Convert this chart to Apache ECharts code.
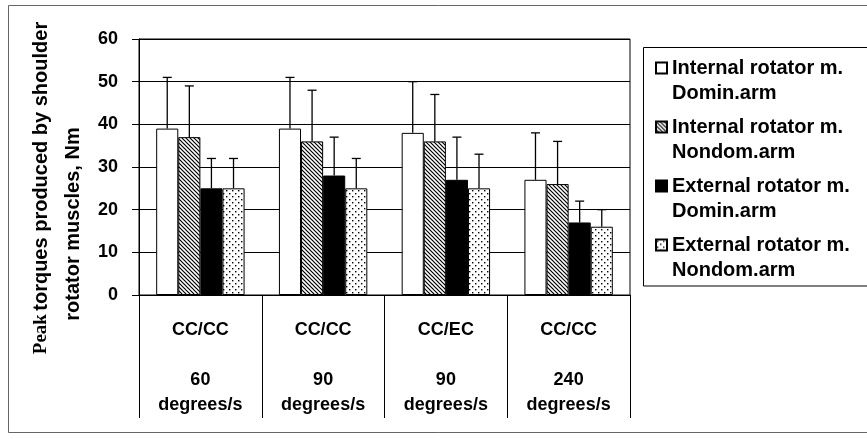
<!DOCTYPE html>
<html>
<head>
<meta charset="utf-8">
<script src="https://cdn.jsdelivr.net/npm/echarts@6/dist/echarts.min.js"></script>
<style>html,body{margin:0;padding:0;background:#fff;}#c{width:867px;height:439px;}</style>
</head>
<body>
<div id="c"></div>
<script>
// ---- data ----
var categories = ['CC/CC\n\n60\ndegrees/s', 'CC/CC\n\n90\ndegrees/s', 'CC/EC\n\n90\ndegrees/s', 'CC/CC\n\n240\ndegrees/s'];
var seriesNames = ['Internal rotator m.\nDomin.arm', 'Internal rotator m.\nNondom.arm', 'External rotator m.\nDomin.arm', 'External rotator m.\nNondom.arm'];
var internalDomin = [39, 39, 38, 27];
var internalDominSD = [12, 12, 12, 11];
var internalNondom = [37, 36, 36, 26];
var internalNondomSD = [12, 12, 11, 10];
var externalDomin = [25, 28, 27, 17];
var externalDominSD = [7, 9, 10, 5];
var externalNondom = [25, 25, 25, 16];
var externalNondomSD = [7, 7, 8, 4];
var yTicks = [0, 10, 20, 30, 40, 50, 60];

var means = [internalDomin, internalNondom, externalDomin, externalNondom];
var sds = [internalDominSD, internalNondomSD, externalDominSD, externalNondomSD];

// ---- patterns ----
function hatchPattern() {
  var c = document.createElement('canvas'); c.width = 4; c.height = 4;
  var g = c.getContext('2d');
  g.fillStyle = '#fff'; g.fillRect(0, 0, 4, 4);
  g.strokeStyle = '#000'; g.lineWidth = 1.2;
  [-4, 0, 4].forEach(function (o) { g.beginPath(); g.moveTo(o - 1, -1); g.lineTo(o + 5, 5); g.stroke(); });
  return { image: c, repeat: 'repeat' };
}
function dotPattern() {
  var c = document.createElement('canvas'); c.width = 6; c.height = 6;
  var g = c.getContext('2d');
  g.fillStyle = '#fff'; g.fillRect(0, 0, 6, 6);
  g.fillStyle = '#000';
  g.fillRect(1, 1, 1.4, 1.4); g.fillRect(4, 4, 1.4, 1.4);
  return { image: c, repeat: 'repeat' };
}
var fills = ['#ffffff', hatchPattern(), '#000000', dotPattern()];

var FONT = "'Liberation Sans', Arial, sans-serif";
var GAP = 0.28;

var series = [];
means.forEach(function (arr, k) {
  series.push({
    name: seriesNames[k],
    type: 'bar',
    data: arr,
    barGap: 0,
    barCategoryGap: (GAP * 100) + '%',
    itemStyle: { color: fills[k], borderColor: '#000', borderWidth: 1 },
    silent: true,
    z: 2
  });
});
means.forEach(function (arr, k) {
  var d = arr.map(function (m, i) { return [i, m + sds[k][i], m]; });
  series.push({
    name: 'err' + k,
    type: 'custom',
    data: d,
    z: 3,
    silent: true,
    renderItem: function (params, api) {
      var cat = api.value(0), top = api.value(1), base = api.value(2);
      var band = api.size([1, 0])[0];
      var bw = band * (1 - GAP) / 4;
      var cx = api.coord([cat, 0])[0] + (k - 1.5) * bw;
      var y1 = api.coord([cat, base])[1];
      var y2 = api.coord([cat, top])[1];
      var st = { stroke: '#000', lineWidth: 1.3 };
      return {
        type: 'group',
        children: [
          { type: 'line', shape: { x1: cx, y1: y1, x2: cx, y2: y2 }, style: st },
          { type: 'line', shape: { x1: cx - 4.5, y1: y2, x2: cx + 4.5, y2: y2 }, style: st }
        ]
      };
    }
  });
});

var chart = echarts.init(document.getElementById('c'), null, { renderer: 'canvas' });
chart.setOption({
  animation: false,
  backgroundColor: '#fff',
  grid: { left: 139, top: 39, right: 237, bottom: 144, show: true, borderColor: '#000', borderWidth: 1 },
  legend: {
    data: seriesNames,
    orient: 'vertical',
    left: 643,
    top: 47,
    selectedMode: false,
    icon: 'rect',
    itemWidth: 11,
    itemHeight: 11,
    itemGap: -16,
    padding: [-16.5, 40, 3.5, 12],
    formatter: function (n) { return ' \n' + n; },
    textStyle: { fontFamily: FONT, fontWeight: 'bold', fontSize: 20, color: '#000', lineHeight: 25 }
  },
  xAxis: {
    type: 'category',
    data: categories,
    axisLine: { lineStyle: { color: '#000', width: 1 } },
    axisTick: { show: true, length: 123, lineStyle: { color: '#000', width: 1 } },
    axisLabel: { interval: 0, margin: 23, fontFamily: FONT, fontWeight: 'bold', fontSize: 18, color: '#000', lineHeight: 25 },
    splitLine: { show: false }
  },
  yAxis: {
    type: 'value',
    min: yTicks[0],
    max: yTicks[yTicks.length - 1],
    interval: yTicks[1] - yTicks[0],
    axisLine: { show: true, lineStyle: { color: '#000', width: 1 } },
    axisTick: { show: true, length: 7, lineStyle: { color: '#000' } },
    axisLabel: { margin: 21, fontFamily: FONT, fontWeight: 'bold', fontSize: 18, color: '#000' },
    splitLine: { show: true, lineStyle: { color: '#000', width: 1 } }
  },
  graphic: [
    { type: 'rect', z: -10, silent: true, shape: { x: 8.5, y: 5.5, width: 900, height: 427 }, style: { fill: 'none', stroke: '#666', lineWidth: 1 } },
    { type: 'rect', z: -5, silent: true, shape: { x: 643.5, y: 47.5, width: 260, height: 238.5 }, style: { fill: 'none', stroke: '#000', lineWidth: 1 } },
    {
      type: 'text', x: 41, y: 188, rotation: Math.PI / 2, silent: true,
      style: {
        text: '{s|Peak} {b|torques produced by shoulder}',
        align: 'center', verticalAlign: 'middle',
        rich: {
          s: { fontFamily: "'Liberation Serif', 'Times New Roman', serif", fontWeight: 'bold', fontSize: 19, fill: '#000' },
          b: { fontFamily: FONT, fontWeight: 'bold', fontSize: 20, fill: '#000' }
        }
      }
    },
    {
      type: 'text', x: 73, y: 224, rotation: Math.PI / 2, silent: true,
      style: { text: 'rotator muscles, Nm', align: 'center', verticalAlign: 'middle', fontFamily: FONT, fontWeight: 'bold', fontSize: 20, fill: '#000' }
    }
  ],
  series: series
});
</script>
</body>
</html>
